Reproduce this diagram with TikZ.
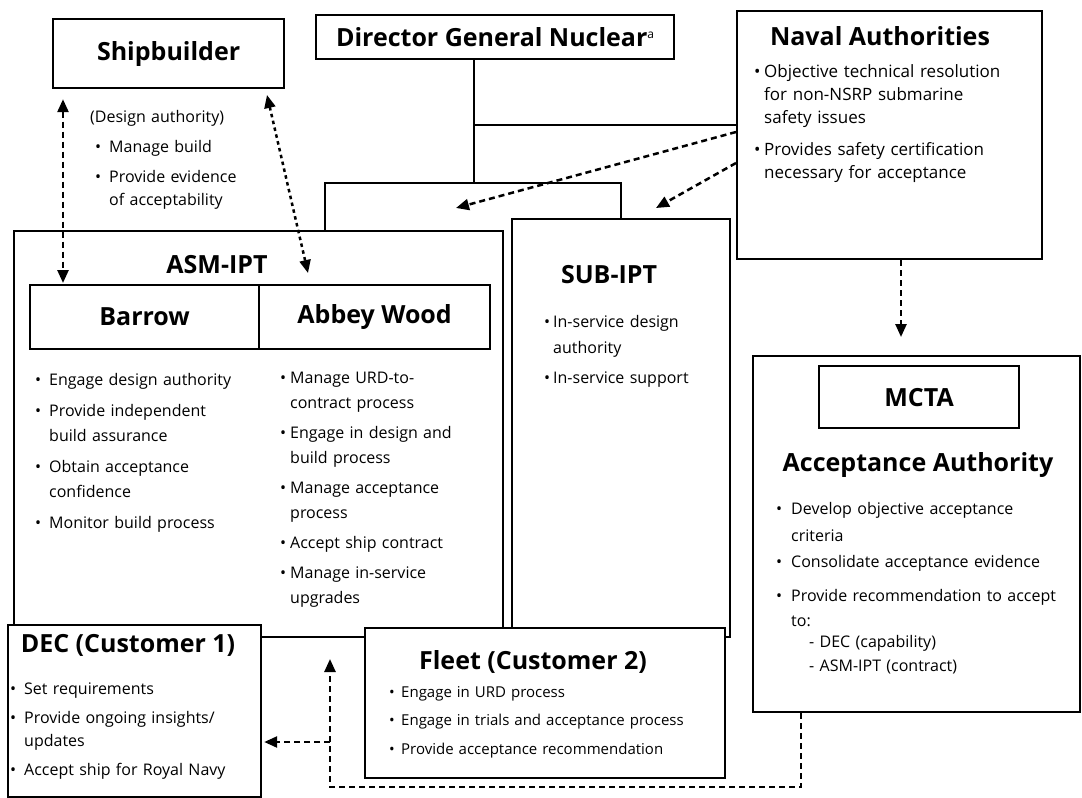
\documentclass[tikz,border=0pt]{standalone}
\usepackage{fontspec}
\setmainfont{Open Sans}
\usetikzlibrary{arrows.meta}
\newlength\bind
\newcommand\bi{\makebox[\bind][l]{\textbullet}}
\newcommand\ci{\hspace*{\bind}}
\begin{document}
\begin{tikzpicture}[x=1pt,y=-1pt,
  box/.style={draw, line width=2.2pt, fill=white, inner sep=0pt, anchor=north west},
  ttl/.style={font=\bfseries\fontsize{25}{28}\selectfont, inner sep=0pt},
  lst/.style={align=left, text width=#1, inner sep=0pt, anchor=base west},
  conn/.style={line width=2.2pt},
  dsh/.style={line width=2.5pt, dash pattern=on 6pt off 4pt},
  dts/.style={line width=2.5pt, dash pattern=on 3.5pt off 3.5pt},
  tip/.style={-{Triangle[length=13pt,width=11pt]}},
  tips/.style={{Triangle[length=13pt,width=11pt]}-{Triangle[length=13pt,width=11pt]}},
]
\useasboundingbox (0,0) rectangle (1082,798);
\fill[white] (0,0) rectangle (1082,798);

% boxes
\node[box, minimum width=489pt, minimum height=406pt] (asm) at (13,230) {};
\node[box, minimum width=218pt, minimum height=418pt] (sub) at (511,218) {};
\node[box, ttl, minimum width=231pt, minimum height=69pt] (ship) at (52,18) {Shipbuilder};
\node[box, ttl, minimum width=358pt, minimum height=44pt] (dgn) at (315,14) {Director General Nuclear\raisebox{8pt}{\fontsize{12}{12}\selectfont\mdseries a}};
\node[box, minimum width=305pt, minimum height=248pt] (na) at (736,10) {};
\node[box, ttl, minimum width=229pt, minimum height=64pt] (bar) at (29,284) {Barrow};
\node[box, ttl, minimum width=231pt, minimum height=64pt] (abbey) at (258,284) {Abbey Wood};
\node[box, minimum width=327pt, minimum height=356pt] (mcta) at (752,355) {};
\node[box, ttl, minimum width=200pt, minimum height=62pt] (mctain) at (818,365) {MCTA};
\node[box, minimum width=253pt, minimum height=172pt] (dec) at (7,624) {};
\node[box, minimum width=360pt, minimum height=150pt] (fleet) at (364,627) {};

% titles
\node[ttl, anchor=base] (asmt) at (217,273) {ASM-IPT};
\node[ttl, anchor=base] (subt) at (609,283) {SUB-IPT};
\node[ttl, anchor=base] (nat) at (880,45) {Naval Authorities};
\node[ttl, anchor=base] (aat) at (918,471) {Acceptance Authority};
\node[ttl, anchor=base] (dect) at (128,652) {DEC (Customer 1)};
\node[ttl, anchor=base] (fleett) at (533,669) {Fleet (Customer 2)};

% lists
\node[lst=190pt, font=\fontsize{16}{23}\selectfont] (shipl) at (90,122) {\setlength\bind{14pt}(Design authority)\\[7pt]
\hspace*{5pt}\bi Manage build\\[7pt]
\hspace*{5pt}\bi Provide evidence\\
\hspace*{5pt}\ci of acceptability};

\node[lst=300pt, font=\fontsize{17}{23}\selectfont] (nal) at (754,77) {\setlength\bind{10pt}\bi Objective technical resolution\\\ci for non-NSRP submarine\\\ci safety issues\\[9pt]\bi Provides safety certification\\\ci necessary for acceptance};

\node[lst=230pt, font=\fontsize{16}{25}\selectfont] (barl) at (35,385) {\setlength\bind{14pt}\bi Engage design authority\\[6pt]\bi Provide independent\\\ci build assurance\\[6pt]\bi Obtain acceptance\\\ci confidence\\[6pt]\bi Monitor build process};

\node[lst=220pt, font=\fontsize{16}{25}\selectfont] (abl) at (280,383) {\setlength\bind{10pt}\bi Manage URD-to-\\\ci contract process\\[5pt]\bi Engage in design and\\\ci build process\\[5pt]\bi Manage acceptance\\\ci process\\[5pt]\bi Accept ship contract\\[5pt]\bi Manage in-service\\\ci upgrades};

\node[lst=180pt, font=\fontsize{16}{26}\selectfont] (subl) at (544,327) {\setlength\bind{9pt}\bi In-service design\\\ci authority\\[4pt]\bi In-service support};

\node[lst=245pt, font=\fontsize{16}{23}\selectfont] (decl) at (10,694) {\setlength\bind{14pt}\bi Set requirements\\[6pt]\bi Provide ongoing insights/\\\ci updates\\[6pt]\bi Accept ship for Royal Navy};

\node[lst=330pt, font=\fontsize{15}{28.5}\selectfont] (fleetl) at (389,697) {\setlength\bind{12pt}\bi Engage in URD process\\\bi Engage in trials and acceptance process\\\bi Provide acceptance recommendation};

\node[lst=300pt, font=\fontsize{16}{25}\selectfont] (mctal) at (776,514) {\setlength\bind{15pt}\bi Develop objective acceptance\\[2pt]\ci criteria\\[1pt]\bi Consolidate acceptance evidence\\[9pt]\bi Provide recommendation to accept\\\ci to:\\[-4pt]\ci\hspace*{18pt}- DEC (capability)\\[-1pt]\ci\hspace*{18pt}- ASM-IPT (contract)};

% solid connectors
\coordinate (j1) at (474,125);
\coordinate (j2) at (474,183);
\coordinate (bl) at (325,183);
\coordinate (br) at (621,183);
\draw[conn] (dgn.south -| j1) -- (j2);
\draw[conn] (j1) -- (j1 -| na.west);
\draw[conn] (asm.north -| bl) -- (bl) -- (br) -- (sub.north -| br);

% dashed connectors
\coordinate (xa) at (63,0);
\draw[dsh, tips, shorten <=10pt, shorten >=1pt] (ship.south -| xa) -- (bar.north -| xa);
\coordinate (s2) at (267,95);
\coordinate (a2) at (308,273);
\draw[dts, tips] (s2) -- (a2);
\coordinate (n1) at (736,132);
\coordinate (n1t) at (456,208);
\draw[dsh, tip] (n1) -- (n1t);
\coordinate (n2) at (736,163);
\coordinate (n2t) at (656,208);
\draw[dsh, tip] (n2) -- (n2t);
\coordinate (xm) at (901,0);
\draw[dsh, tip, shorten >=18pt] (na.south -| xm) -- (mcta.north -| xm);
\coordinate (xb) at (801,0);
\coordinate (c1) at (801,787);
\coordinate (c2) at (330,787);
\coordinate (c3) at (330,659);
\coordinate (c4) at (330,742);
\draw[dsh, tip] (mcta.south -| xb) -- (c1) -- (c2) -- (c3);
\draw[dsh, tip, shorten >=2pt] (c4) -- (c4 -| dec.east);
\end{tikzpicture}
\end{document}
